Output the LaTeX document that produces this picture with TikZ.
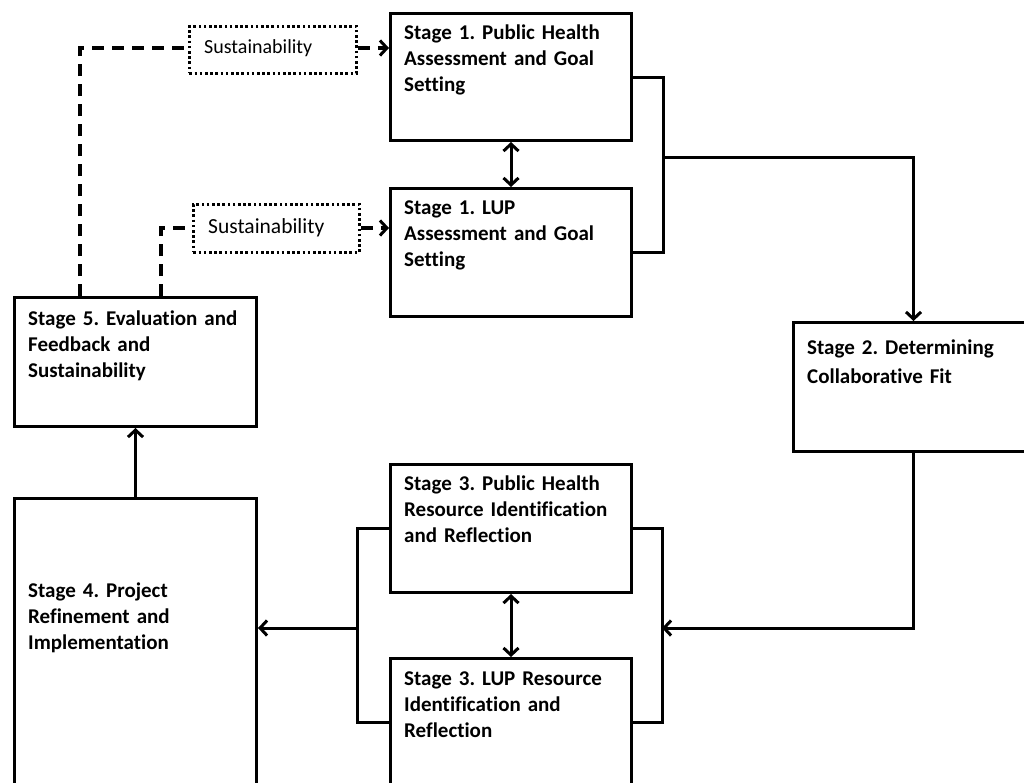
\documentclass[tikz,border=0pt]{standalone}
\usepackage{fontspec}
\setmainfont{Carlito}[Ligatures=NoCommon]
\usetikzlibrary{arrows.meta}
\begin{document}
\frenchspacing
\begin{tikzpicture}[x=1pt,y=-1pt,
  ln/.style={line width=3pt, line cap=rect},
  box/.style={draw, line width=3pt, anchor=north west, inner sep=0pt},
  txt/.style={anchor=base west, inner sep=0pt, align=left, text width=240pt,
    font=\bfseries\fontsize{21}{26}\selectfont},
  sus/.style={draw, line width=2.8pt, dash pattern=on 2.6pt off 2.6pt, anchor=north west, inner sep=0pt},
  sustxt/.style={anchor=base west, inner sep=0pt},
  tip/.tip={Straight Barb[length=7pt,width=15pt,line width=3pt]},
  arr/.style={-tip},
  dbl/.style={tip-tip},
  dsh/.style={line width=3.2pt, dash pattern=on 12pt off 8pt}
]
\useasboundingbox (0,0) rectangle (1024,782);
\clip (0,0) rectangle (1024,782);

% boxes
\node[box, minimum width=241pt, minimum height=127pt] (s1ph) at (389,12) {};
\node[box, minimum width=241pt, minimum height=128pt] (s1lup) at (389,187) {};
\node[box, minimum width=240pt, minimum height=129pt] (s2) at (792,321) {};
\node[box, minimum width=241pt, minimum height=128pt] (s3ph) at (389,463) {};
\node[box, minimum width=241pt, minimum height=128pt] (s3lup) at (389,657) {};
\node[box, minimum width=242pt, minimum height=320pt] (s4) at (13,497) {};
\node[box, minimum width=242pt, minimum height=129pt] (s5) at (13,296) {};

% texts
\node[txt] (t1ph) at (404,39) {Stage 1. Public Health\\Assessment and Goal\\Setting};
\node[txt] (t1lup) at (404,214) {Stage 1. LUP\\Assessment and Goal\\Setting};
\node[txt, font=\bfseries\fontsize{21}{29}\selectfont] (t2) at (807,354) {Stage 2. Determining\\Collaborative Fit};
\node[txt] (t3ph) at (404,490) {Stage 3. Public Health\\Resource Identification\\and Reflection};
\node[txt] (t3lup) at (404,685) {Stage 3. LUP Resource\\Identification and\\Reflection};
\node[txt] (t4) at (28,597) {Stage 4. Project\\Refinement and\\Implementation};
\node[txt] (t5) at (28,325) {Stage 5. Evaluation and\\Feedback and\\Sustainability};

% sustainability boxes
\node[sus, minimum width=167pt, minimum height=47pt] (su1) at (188,25) {};
\node[sus, minimum width=166pt, minimum height=48pt] (su2) at (192,203) {};
\node[sustxt, font=\fontsize{20}{24}\selectfont] (su1t) at (204,53) {Sustainability};
\node[sustxt, font=\fontsize{21.5}{25}\selectfont] (su2t) at (208,233) {Sustainability};

% dashed feedback
\coordinate (c1) at (80,48);
\coordinate (c2) at (161,228);
\draw[dsh] (c1 |- s5.north) -- (c1) -- (c1 -| su1.west);
\draw[dsh, arr] (c1 -| su1.east) -- (c1 -| s1ph.west);
\draw[dsh] (c2 |- s5.north) -- (c2) -- (c2 -| su2.west);
\draw[dsh, arr] (c2 -| su2.east) -- (c2 -| s1lup.west);

% stage 1 bracket
\coordinate (b1) at (663,157);
\draw[ln] (s1ph.east) -| (b1) |- (s1lup.east);
\draw[ln, arr] (b1) -| (s2.north);
\draw[ln, dbl] (s1ph.south) -- (s1lup.north);

% stage 2 to stage 3
\coordinate (b3) at (662,628);
\draw[ln, arr] (s2.south) |- (b3);
\draw[ln] (s3ph.east) -| (b3) |- (s3lup.east);
\draw[ln, dbl] (s3ph.south) -- (s3lup.north);

% stage 3 to stage 4
\coordinate (b4) at (357,628);
\draw[ln] (s3ph.west) -| (b4) |- (s3lup.west);
\draw[ln, arr] (b4) -- (b4 -| s4.east);

% stage 4 to stage 5
\draw[ln, arr] (s4.north) -- (s5.south);
\end{tikzpicture}
\end{document}
